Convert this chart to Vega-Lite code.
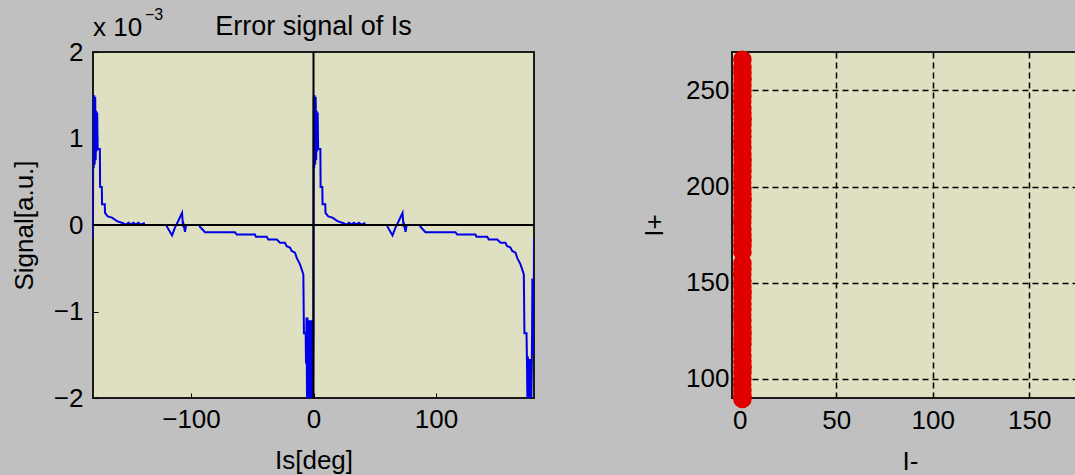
{
  "$schema": "https://vega.github.io/schema/vega-lite/v6.json",
  "autosize": "none",
  "padding": {"left": 93, "top": 52, "right": 982, "bottom": 423},
  "background": "#c0c0c0",
  "config": {
    "font": "Liberation Sans",
    "view": {"fill": "#dfdfc1", "stroke": "#1a1a1a", "strokeWidth": 2},
    "axis": {
      "labelFont": "Liberation Sans", "labelFontSize": 26, "labelColor": "#000000",
      "titleFont": "Liberation Sans", "titleFontSize": 26, "titleFontWeight": "normal", "titleColor": "#000000",
      "domain": false, "labelFlush": false
    }
  },
  "datasets": {
    "err": [
      {"a": -180, "s": -0.15},
      {"a": -179.8, "s": 1.5}, {"a": -179.4, "s": 0.66}, {"a": -179.0, "s": 1.5}, {"a": -178.6, "s": 0.7},
      {"a": -178.2, "s": 1.48}, {"a": -177.8, "s": 0.75}, {"a": -177.4, "s": 1.32}, {"a": -177.0, "s": 0.85},
      {"a": -176.6, "s": 1.3}, {"a": -176.2, "s": 0.88}, {"a": -174.4, "s": 0.88}, {"a": -174.2, "s": 0.44},
      {"a": -172.8, "s": 0.44}, {"a": -172.6, "s": 0.24}, {"a": -170.4, "s": 0.24}, {"a": -170.2, "s": 0.14},
      {"a": -168.0, "s": 0.1}, {"a": -164.5, "s": 0.085}, {"a": -160.4, "s": 0.045}, {"a": -155.5, "s": 0.02},
      {"a": -153, "s": 0.005}, {"a": -151, "s": 0.025}, {"a": -149, "s": 0.005}, {"a": -147, "s": 0.025},
      {"a": -145, "s": 0.005}, {"a": -143, "s": 0.025}, {"a": -141, "s": 0.005}, {"a": -138.5, "s": 0.02},
      {"a": -138, "s": 0}, {"a": -120, "s": 0}, {"a": -119.6, "s": -0.02}, {"a": -115.5, "s": -0.12},
      {"a": -113.1, "s": -0.03}, {"a": -110.6, "s": 0.04}, {"a": -107.3, "s": 0.14}, {"a": -106.5, "s": -0.02},
      {"a": -106, "s": 0}, {"a": -104.9, "s": -0.08}, {"a": -104.1, "s": -0.01}, {"a": -103.5, "s": 0},
      {"a": -93, "s": 0}, {"a": -92.7, "s": -0.02}, {"a": -88.6, "s": -0.083}, {"a": -64.1, "s": -0.083},
      {"a": -62.7, "s": -0.11}, {"a": -47.8, "s": -0.11}, {"a": -47, "s": -0.137}, {"a": -38.2, "s": -0.137},
      {"a": -36.9, "s": -0.168}, {"a": -30, "s": -0.168}, {"a": -27.3, "s": -0.206}, {"a": -23.3, "s": -0.206},
      {"a": -21.9, "s": -0.244}, {"a": -19.2, "s": -0.26}, {"a": -17.8, "s": -0.3}, {"a": -15.1, "s": -0.32},
      {"a": -13.7, "s": -0.38}, {"a": -11, "s": -0.455}, {"a": -8.3, "s": -0.57}, {"a": -7.8, "s": -1.25},
      {"a": -6.4, "s": -1.25}, {"a": -6.1, "s": -1.6}, {"a": -5.7, "s": -1.07}, {"a": -5.3, "s": -2.0},
      {"a": -4.9, "s": -1.07}, {"a": -4.5, "s": -2.0}, {"a": -4.1, "s": -1.1}, {"a": -3.7, "s": -2.0},
      {"a": -3.3, "s": -1.1}, {"a": -2.9, "s": -2.0}, {"a": -2.5, "s": -1.1}, {"a": -2.1, "s": -2.0},
      {"a": -1.7, "s": -1.1}, {"a": -1.3, "s": -2.0}, {"a": -0.9, "s": -1.1}, {"a": -0.5, "s": -2.0},
      {"a": -0.1, "s": -1.1},
      {"a": 0.2, "s": 1.5}, {"a": 0.6, "s": 0.66}, {"a": 1.0, "s": 1.5}, {"a": 1.4, "s": 0.7},
      {"a": 1.8, "s": 1.48}, {"a": 2.2, "s": 0.75}, {"a": 2.6, "s": 1.32}, {"a": 3.0, "s": 0.85},
      {"a": 3.4, "s": 1.3}, {"a": 3.8, "s": 0.88}, {"a": 5.6, "s": 0.88}, {"a": 5.8, "s": 0.44},
      {"a": 7.2, "s": 0.44}, {"a": 7.4, "s": 0.24}, {"a": 9.6, "s": 0.24}, {"a": 9.8, "s": 0.14},
      {"a": 12.0, "s": 0.1}, {"a": 15.5, "s": 0.085}, {"a": 19.6, "s": 0.045}, {"a": 24.5, "s": 0.02},
      {"a": 27, "s": 0.005}, {"a": 29, "s": 0.025}, {"a": 31, "s": 0.005}, {"a": 33, "s": 0.025},
      {"a": 35, "s": 0.005}, {"a": 37, "s": 0.025}, {"a": 39, "s": 0.005}, {"a": 41.5, "s": 0.02},
      {"a": 42, "s": 0}, {"a": 60, "s": 0}, {"a": 60.4, "s": -0.02}, {"a": 64.5, "s": -0.12},
      {"a": 66.9, "s": -0.03}, {"a": 69.4, "s": 0.04}, {"a": 72.7, "s": 0.14}, {"a": 73.5, "s": -0.02},
      {"a": 74, "s": 0}, {"a": 75.1, "s": -0.08}, {"a": 75.9, "s": -0.01}, {"a": 76.5, "s": 0},
      {"a": 87, "s": 0}, {"a": 87.3, "s": -0.02}, {"a": 91.4, "s": -0.083}, {"a": 115.9, "s": -0.083},
      {"a": 117.3, "s": -0.11}, {"a": 132.2, "s": -0.11}, {"a": 133, "s": -0.137}, {"a": 141.8, "s": -0.137},
      {"a": 143.1, "s": -0.168}, {"a": 150, "s": -0.168}, {"a": 152.7, "s": -0.206}, {"a": 156.7, "s": -0.206},
      {"a": 158.1, "s": -0.244}, {"a": 160.8, "s": -0.26}, {"a": 162.2, "s": -0.3}, {"a": 164.9, "s": -0.32},
      {"a": 166.3, "s": -0.38}, {"a": 169, "s": -0.455}, {"a": 171.7, "s": -0.57}, {"a": 172.2, "s": -1.25},
      {"a": 173.9, "s": -1.25}, {"a": 174.2, "s": -1.52}, {"a": 174.6, "s": -2.0}, {"a": 175.0, "s": -1.52},
      {"a": 175.4, "s": -2.0}, {"a": 175.8, "s": -1.55}, {"a": 176.2, "s": -2.0}, {"a": 176.6, "s": -1.55},
      {"a": 177.0, "s": -2.0}, {"a": 177.4, "s": -1.55}, {"a": 177.8, "s": -2.0}, {"a": 178.3, "s": -1.52},
      {"a": 178.7, "s": -0.62}, {"a": 179.0, "s": -1.5}, {"a": 179.3, "s": -0.62}, {"a": 179.6, "s": -1.5},
      {"a": 179.9, "s": -0.6}, {"a": 180, "s": -0.15}
    ],
    "iq": [
      {"im": 1.4, "ip": 89.5}, {"im": 1.4, "ip": 91}, {"im": 1.4, "ip": 94}, {"im": 1.3, "ip": 97}, {"im": 1.4, "ip": 100},
      {"im": 1.4, "ip": 103}, {"im": 1.5, "ip": 106}, {"im": 1.4, "ip": 109}, {"im": 1.4, "ip": 112},
      {"im": 1.3, "ip": 115}, {"im": 1.4, "ip": 118}, {"im": 1.4, "ip": 121}, {"im": 1.5, "ip": 124},
      {"im": 1.4, "ip": 127}, {"im": 1.4, "ip": 130}, {"im": 1.3, "ip": 133}, {"im": 1.4, "ip": 136},
      {"im": 1.4, "ip": 139}, {"im": 1.4, "ip": 142}, {"im": 1.5, "ip": 145}, {"im": 1.4, "ip": 148},
      {"im": 1.4, "ip": 151}, {"im": 1.3, "ip": 154}, {"im": 1.4, "ip": 157}, {"im": 1.4, "ip": 160},
      {"im": 1.4, "ip": 166}, {"im": 1.4, "ip": 169}, {"im": 1.5, "ip": 172}, {"im": 1.4, "ip": 175},
      {"im": 1.4, "ip": 178}, {"im": 1.3, "ip": 181}, {"im": 1.4, "ip": 184}, {"im": 1.4, "ip": 187},
      {"im": 1.4, "ip": 190}, {"im": 1.5, "ip": 193}, {"im": 1.4, "ip": 196}, {"im": 1.4, "ip": 199},
      {"im": 1.3, "ip": 202}, {"im": 1.4, "ip": 205}, {"im": 1.4, "ip": 208}, {"im": 1.4, "ip": 211},
      {"im": 1.5, "ip": 214}, {"im": 1.4, "ip": 217}, {"im": 1.4, "ip": 220}, {"im": 1.3, "ip": 223},
      {"im": 1.4, "ip": 226}, {"im": 1.4, "ip": 229}, {"im": 1.4, "ip": 232}, {"im": 1.5, "ip": 235},
      {"im": 1.4, "ip": 238}, {"im": 1.4, "ip": 241}, {"im": 1.3, "ip": 244}, {"im": 1.4, "ip": 247},
      {"im": 1.4, "ip": 250}, {"im": 1.4, "ip": 253}, {"im": 1.5, "ip": 256}, {"im": 1.4, "ip": 259},
      {"im": 1.4, "ip": 262}, {"im": 1.4, "ip": 266}
    ],
    "mult": [{"note": "x 10", "exp": "−3", "ttl": "Error signal of Is"}]
  },
  "spacing": 198,
  "bounds": "flush",
  "hconcat": [
    {
      "width": 441,
      "height": 346,
      "layer": [
        {
          "data": {"name": "err"},
          "mark": {"type": "line", "color": "#0000e8", "strokeWidth": 2, "clip": true},
          "encoding": {
            "x": {"field": "a", "type": "quantitative", "title": "Is[deg]",
              "scale": {"domain": [-180, 180], "nice": false, "zero": false},
              "axis": {"values": [-100, 0, 100], "format": "d", "grid": false, "ticks": true, "tickSize": -5, "tickColor": "#000000", "labelPadding": 13, "titlePadding": 15}},
            "y": {"field": "s", "type": "quantitative", "title": "Signal[a.u.]",
              "scale": {"domain": [-2, 2], "nice": false, "zero": false},
              "axis": {"values": [-2, -1, 0, 1, 2], "format": "d", "grid": false, "ticks": true, "tickSize": -5, "tickColor": "#000000", "labelPadding": 15, "titlePadding": 16}}
          }
        },
        {
          "data": {"values": [{}]},
          "mark": {"type": "rule", "color": "#000000", "strokeWidth": 2},
          "encoding": {"y": {"datum": 0}}
        },
        {
          "data": {"values": [{}]},
          "mark": {"type": "rule", "color": "#000000", "strokeWidth": 2},
          "encoding": {"x": {"datum": 0}}
        },
        {
          "data": {"name": "mult"},
          "mark": {"type": "text", "align": "left", "baseline": "alphabetic", "dy": -16, "fontSize": 26, "color": "#000000"},
          "encoding": {"x": {"datum": -180}, "y": {"datum": 2}, "text": {"field": "note"}}
        },
        {
          "data": {"name": "mult"},
          "mark": {"type": "text", "align": "left", "baseline": "alphabetic", "dx": 52, "dy": -32, "fontSize": 16, "color": "#000000"},
          "encoding": {"x": {"datum": -180}, "y": {"datum": 2}, "text": {"field": "exp"}}
        },
        {
          "data": {"name": "mult"},
          "mark": {"type": "text", "align": "center", "baseline": "alphabetic", "dy": -17, "fontSize": 27, "color": "#000000"},
          "encoding": {"x": {"datum": 0}, "y": {"datum": 2}, "text": {"field": "ttl"}}
        }
      ]
    },
    {
      "width": 356,
      "height": 346,
      "data": {"name": "iq"},
      "mark": {"type": "point", "shape": "circle", "filled": true, "color": "#e00000", "opacity": 1, "size": 346},
      "encoding": {
        "x": {"field": "im", "type": "quantitative", "title": "I-",
          "scale": {"domain": [-4, 180.5], "nice": false, "zero": false},
          "axis": {"values": [0, 50, 100, 150], "grid": true, "gridColor": "#000000", "gridDash": [6, 4], "gridWidth": 1.5, "ticks": false, "labelPadding": 9, "titlePadding": 15}},
        "y": {"field": "ip", "type": "quantitative", "title": "I+",
          "scale": {"domain": [90, 270], "nice": false, "zero": false},
          "axis": {"values": [100, 150, 200, 250], "grid": true, "gridColor": "#000000", "gridDash": [6, 4], "gridWidth": 1.5, "ticks": false, "labelPadding": 3, "titlePadding": 18}}
      }
    }
  ]
}
